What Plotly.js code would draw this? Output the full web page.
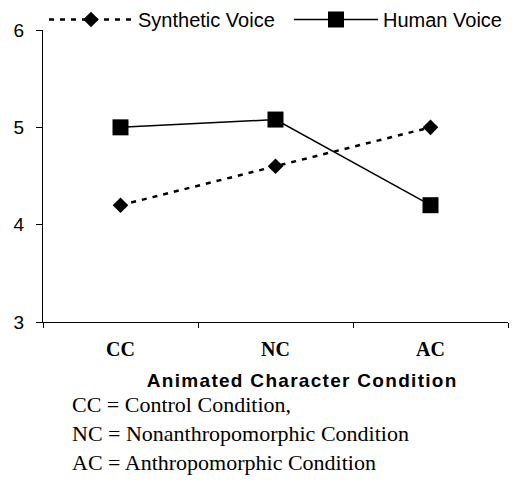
<!DOCTYPE html>
<html><head><meta charset="utf-8">
<script src="https://cdn.plot.ly/plotly-3.0.1.min.js"></script>
<style>
body{margin:0;background:#fff}#chart{width:512px;height:490px}
.annotation[data-index="0"] .annotation-text{letter-spacing:1.3px}
</style>
</head><body><div id="chart"></div>
<script>
const categories = ["CC", "NC", "AC"];
const syntheticVoice = [4.2, 4.6, 5.0];
const humanVoice = [5.0, 5.08, 4.2];
const yTicks = [3, 4, 5, 6];
const footnotes = ["CC = Control Condition,", "NC = Nonanthropomorphic Condition", "AC = Anthropomorphic Condition"];

const SERIF = "Liberation Serif";
const SANS = "Liberation Sans";

const traces = [
  {x: categories, y: syntheticVoice, name: "Synthetic Voice", type: "scatter", mode: "lines+markers", legend: "legend",
   line: {color: "#000", width: 2.5, dash: "5px,6px"}, marker: {symbol: "diamond", size: 12, color: "#000"}},
  {x: categories, y: humanVoice, name: "Human Voice", type: "scatter", mode: "lines+markers", legend: "legend2",
   line: {color: "#000", width: 1.5}, marker: {symbol: "square", size: 16, color: "#000"}}
];

const annotations = [{
  text: "<b>Animated Character Condition</b>", xref: "paper", yref: "paper",
  x: (302 - 43) / 465, y: -58 / 292, xanchor: "center", yanchor: "middle", showarrow: false,
  font: {family: SANS, size: 19, color: "#000"}
}];
footnotes.forEach((t, i) => annotations.push({
  text: t, xref: "paper", yref: "paper", x: (70 - 43) / 465, y: -(82 + 29 * i) / 292,
  xanchor: "left", yanchor: "middle", showarrow: false,
  font: {family: SERIF, size: 22, color: "#000"}
}));

const legendBase = {orientation: "h", xref: "container", yref: "container", xanchor: "left", y: 1.0, yanchor: "top",
  itemwidth: 84, font: {family: SANS, size: 20, color: "#000"}, bgcolor: "#fff"};

const layout = {
  width: 512, height: 490,
  margin: {l: 43, r: 4, t: 30, b: 168, autoexpand: false},
  paper_bgcolor: "#fff", plot_bgcolor: "#fff",
  showlegend: true,
  legend: Object.assign({}, legendBase, {x: 44 / 512}),
  legend2: Object.assign({}, legendBase, {x: 289 / 512}),
  xaxis: {type: "category", range: [-0.5, 2.5], showline: true, linecolor: "#000", linewidth: 1,
          showgrid: false, zeroline: false, ticks: "outside", tickson: "boundaries", ticklen: 5,
          tickcolor: "#000", ticklabelstandoff: 9,
          tickfont: {family: SERIF, size: 20, color: "#000", weight: "bold"}},
  yaxis: {range: [3, 6], tickvals: yTicks, showline: true, linecolor: "#000", linewidth: 1,
          showgrid: false, zeroline: false, ticks: "outside", ticklen: 6, tickcolor: "#000",
          ticklabelstandoff: 8,
          tickfont: {family: SANS, size: 19, color: "#000"}},
  annotations: annotations
};
Plotly.newPlot("chart", traces, layout, {displayModeBar: false, staticPlot: true});
</script></body></html>
